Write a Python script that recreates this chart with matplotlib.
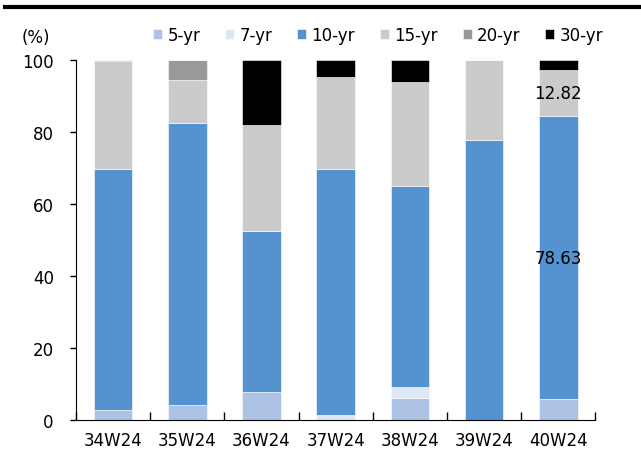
import numpy as np
import matplotlib
matplotlib.use("Agg")
import matplotlib.pyplot as plt
from matplotlib.lines import Line2D

# weekly share by maturity (%)
weeks = ["34W24", "35W24", "36W24", "37W24", "38W24", "39W24", "40W24"]
yr5 = [2.8, 4.2, 7.9, 0.0, 6.2, 0.0, 5.8]
yr7 = [0.0, 0.0, 0.0, 1.3, 2.9, 0.0, 0.0]
yr10 = [66.9, 78.4, 44.7, 68.4, 56.0, 77.8, 78.63]
yr15 = [30.1, 11.8, 29.3, 25.7, 28.8, 22.2, 12.82]
yr20 = [0.2, 5.6, 0.0, 0.0, 0.0, 0.0, 0.0]
yr30 = [0.0, 0.0, 18.1, 4.6, 6.1, 0.0, 2.75]

series = [("5-yr", yr5, "#adc3e5"), ("7-yr", yr7, "#dfe7f7"),
          ("10-yr", yr10, "#5593d0"), ("15-yr", yr15, "#cbcbcb"),
          ("20-yr", yr20, "#999999"), ("30-yr", yr30, "#000000")]

plt.rcParams['font.family'] = 'DejaVu Sans'
fs = 12
fig = plt.figure(figsize=(6.41, 4.60), dpi=100)
ax = fig.add_axes([0.1186, 0.0848, 0.8104, 0.7822])

x = np.arange(len(weeks))
bottom = np.zeros(len(weeks))
bars = {}
for name, vals, col in series:
    vals = np.array(vals)
    bars[name] = ax.bar(x, vals, 0.52, bottom=bottom, color=col, label=name,
                        edgecolor="white", linewidth=0.4)
    bottom += vals

# value labels on the latest week
for name in ["10-yr", "15-yr"]:
    r = bars[name][-1]
    ax.text(r.get_x() + r.get_width() / 2, r.get_y() + r.get_height() / 2,
            f"{r.get_height():.2f}", ha="center", va="center", fontsize=fs)

ax.set_xlim(-0.5, len(weeks) - 0.5)
ax.set_ylim(0, 100)
ax.set_yticks(range(0, 101, 20))
ax.set_xticks(x)
ax.set_xticklabels(weeks)
ax.set_xticks(np.arange(-0.5, len(weeks)), minor=True)
ax.tick_params(axis="x", which="major", length=0, pad=8, labelsize=fs)
ax.tick_params(axis="x", which="minor", direction="in", length=6, width=1)
ax.tick_params(axis="y", direction="out", length=4, width=1, pad=12, labelsize=fs)
ax.spines["top"].set_visible(False)
ax.spines["right"].set_visible(False)

fig.text(0.034, 0.917, "(%)", fontsize=fs, va="center")
fig.legend(loc="center left", bbox_to_anchor=(0.226, 0.921), ncol=6,
           frameon=False, fontsize=fs, handlelength=0.55, handleheight=0.55,
           handletextpad=0.3, columnspacing=1.5, borderpad=0)
fig.add_artist(Line2D([0.008, 1.0], [0.983, 0.983], color="black", linewidth=3,
                      transform=fig.transFigure))

fig.savefig("out.png", dpi=100)
